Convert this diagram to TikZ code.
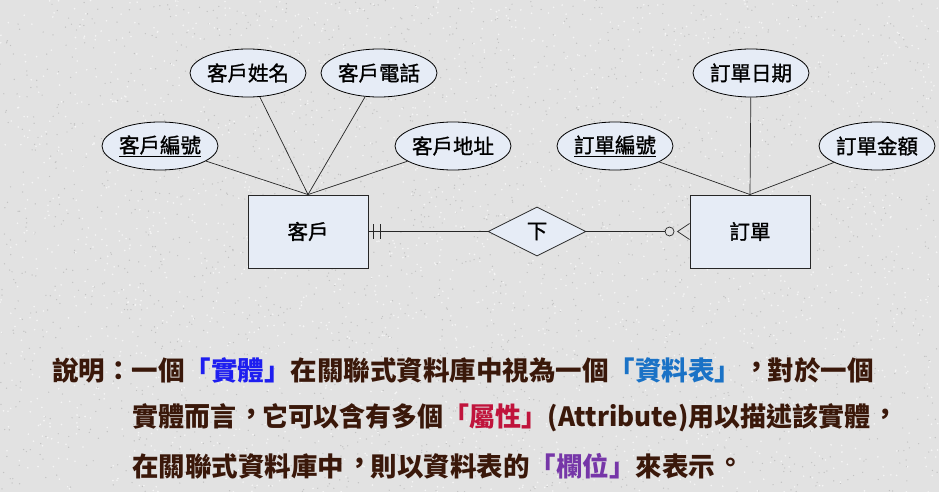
\documentclass[tikz,border=0pt]{standalone}
\usepackage{fontspec}
\usetikzlibrary{shapes.geometric,calc}
\newfontfamily\cjk{Noto Sans CJK TC}
\newfontfamily\cjkmid{Noto Sans CJK TC}[FakeBold=1.2]
\definecolor{bgcol}{HTML}{E2E2E2}
\definecolor{boxfill}{HTML}{E6ECF6}
\definecolor{bodytext}{HTML}{3A180A}
\definecolor{wordA}{HTML}{1E1EF0}
\definecolor{wordB}{HTML}{1A72C6}
\definecolor{wordC}{HTML}{C0143C}
\definecolor{wordD}{HTML}{7636A8}
\newcommand{\term}[2]{\textcolor{#1}{「#2」}}
% centred full-width punctuation, Taiwan style
\newcommand{\cpunct}[1]{\makebox[1em][l]{\hspace{0.1em}\raisebox{0.14em}{#1}}}
\begin{document}
\begin{tikzpicture}[x=1pt,y=-1pt,
  attr/.style={ellipse,draw=black,line width=0.8pt,fill=boxfill,
    minimum width=98pt,minimum height=48pt,inner sep=0pt,
    font=\cjkmid\fontsize{20.5}{20.5}\selectfont},
  entity/.style={rectangle,draw=black!85,line width=0.9pt,fill=boxfill,
    minimum width=120pt,minimum height=73pt,inner sep=0pt,
    font=\cjkmid\fontsize{20.5}{20.5}\selectfont},
  rel/.style={diamond,draw=black!85,line width=0.8pt,fill=boxfill,
    minimum width=98pt,minimum height=49pt,inner sep=0pt,
    font=\cjkmid\fontsize{20.5}{20.5}\selectfont},
  link/.style={line width=0.7pt,black!85},
  note/.style={anchor=west,inner sep=0pt,text=bodytext,
    font=\cjk\bfseries\fontsize{26.5}{26.5}\selectfont}
]
\fill[bgcol] (0,0) rectangle (939,492);
\useasboundingbox (0,0) rectangle (939,492);

% granite-like speckle on the paper
\pgfmathsetseed{7}
\foreach \i in {1,...,2200}{
  \pgfmathsetmacro{\px}{939*rnd}
  \pgfmathsetmacro{\py}{492*rnd}
  \fill[black!24] (\px,\py) circle (0.7);
}
\foreach \i in {1,...,2200}{
  \pgfmathsetmacro{\px}{939*rnd}
  \pgfmathsetmacro{\py}{492*rnd}
  \fill[white!96!black] (\px,\py) circle (0.9);
}

% entities and relationship
\node[entity] (cust) at (308,231.5) {客戶};
\node[entity] (ord)  at (750,231.5) {訂單};
\node[rel]    (rel)  at (537,231.5) {下};

% customer attributes
\node[attr] (cid)   at (160,146) {\underline{客戶編號}};
\node[attr] (cname) at (248,73)  {客戶姓名};
\node[attr] (ctel)  at (379,73)  {客戶電話};
\node[attr] (caddr) at (453,146) {客戶地址};

% order attributes
\node[attr] (oid)   at (615,146) {\underline{訂單編號}};
\node[attr] (odate) at (751,73)  {訂單日期};
\node[attr] (oamt)  at (877,146) {訂單金額};

\foreach \a in {cid,cname,ctel,caddr}
  \draw[link] (\a) -- (cust.north);
\foreach \a in {oid,odate,oamt}
  \draw[link] (\a) -- (ord.north);

% relationship lines with cardinality marks
\coordinate (ring) at ($(ord.west)+(-20,0)$);
\coordinate (fork) at ($(ord.west)+(-12,0)$);
\draw[link] (cust.east) -- (rel.west);
\draw[link] (rel.east) -- ($(ring)+(-4.5,0)$);
\draw[link] (ring) circle (4.5);
\draw[link] ($(ord.west)+(0,-8)$) -- (fork) -- ($(ord.west)+(0,8)$);
\draw[link] ($(cust.east)+(5,-7.5)$) -- ($(cust.east)+(5,7.5)$);
\draw[link] ($(cust.east)+(12,-7.5)$) -- ($(cust.east)+(12,7.5)$);

% explanation
\node[note] (l1) at (52,370) {說明：一個\term{wordA}{實體}在關聯式資料庫中視為一個\term{wordB}{資料表}\cpunct{，}對於一個};
\node[note] (l2) at (132,418) {\scalebox{0.98}[1]{實體而言\cpunct{，}它可以含有多個\term{wordC}{屬性}(Attribute)用以描述該實體\cpunct{，}}};
\node[note] (l3) at (132,466) {在關聯式資料庫中\cpunct{，}則以資料表的\term{wordD}{欄位}來表示\cpunct{。}};
\end{tikzpicture}
\end{document}
